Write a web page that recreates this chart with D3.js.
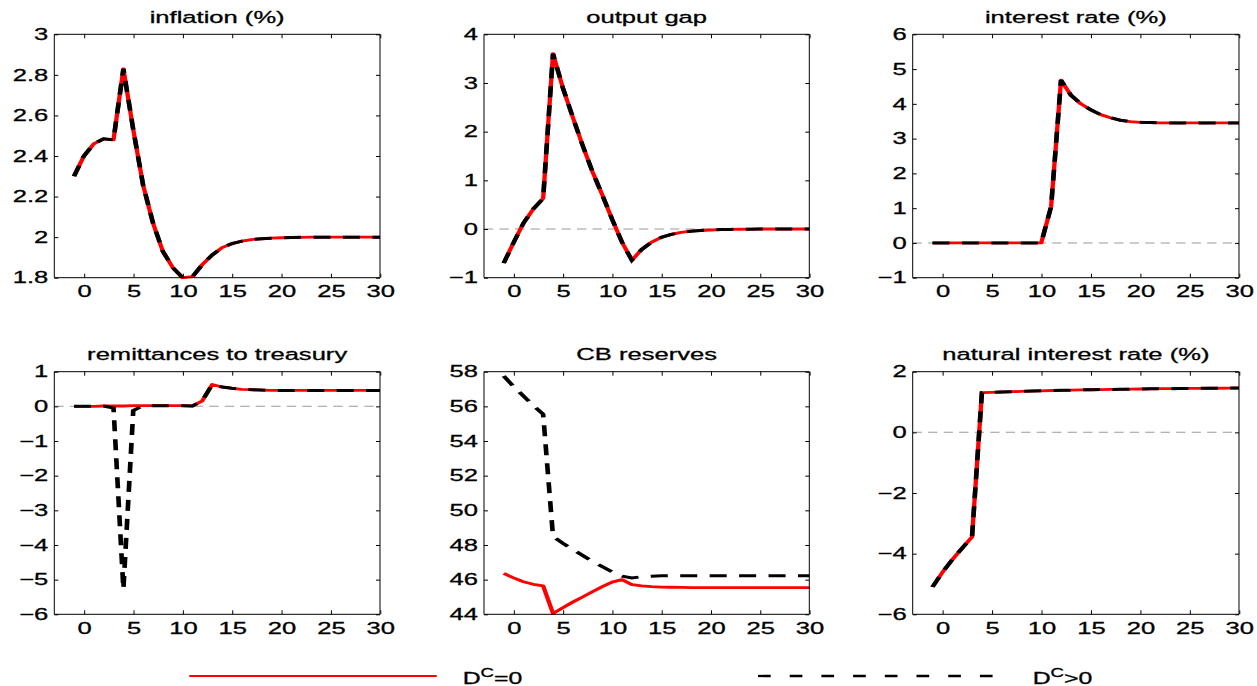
<!DOCTYPE html>
<html>
<head>
<meta charset="utf-8">
<script src="https://cdn.jsdelivr.net/npm/d3@7"></script>
<style>
  body { margin: 0; background: #fff; }
  svg { display: block; }
  text { font-family: "Liberation Sans", Arial, sans-serif; fill: #000; stroke: #000; stroke-width: 0.3px; }
</style>
</head>
<body>
<svg id="fig" width="1257" height="686"></svg>
<script>

// horizon (quarters)
const periods = [-1, 0, 1, 2, 3, 4, 5, 6, 7, 8, 9, 10, 11, 12, 13, 14, 15,
    16, 17, 18, 19, 20, 21, 22, 23, 24, 25, 26, 27, 28, 29, 30];

// series where both cases coincide
const inflation = [2.30, 2.40, 2.46, 2.485, 2.48, 2.83, 2.53, 2.256, 2.07, 1.93, 1.85, 1.80,
    1.805, 1.865, 1.912, 1.948, 1.968, 1.98, 1.988, 1.992, 1.995, 1.997, 1.998, 1.999,
    2.0, 2.0, 2.0, 2.0, 2.0, 2.0, 2.0, 2.0];

const outputGap = [-0.70, -0.28, 0.12, 0.41, 0.63, 3.60, 2.90, 2.30, 1.72, 1.18, 0.70, 0.20,
    -0.27, -0.64, -0.42, -0.27, -0.17, -0.11, -0.07, -0.045, -0.03, -0.02, -0.012, -0.008,
    -0.005, -0.003, 0, 0, 0, 0, 0, 0];

const interestRate = [0, 0, 0, 0, 0, 0, 0, 0, 0, 0, 0, 0, 1.05, 4.68, 4.25, 4.0, 3.83, 3.69,
    3.60, 3.53, 3.49, 3.47, 3.46, 3.45, 3.45, 3.45, 3.45, 3.45, 3.45, 3.45, 3.45, 3.45];

const naturalRate = [-5.10, -4.62, -4.20, -3.82, -3.45, 1.31, 1.32, 1.33, 1.34, 1.35, 1.36,
    1.37, 1.38, 1.385, 1.39, 1.40, 1.405, 1.41, 1.415, 1.42, 1.425, 1.43, 1.435, 1.44,
    1.44, 1.445, 1.45, 1.45, 1.455, 1.455, 1.46, 1.46];

// series that differ between D^C = 0 and D^C > 0
const remitZero = [0, 0, 0, 0.01, 0.01, 0.01, 0.02, 0.02, 0.02, 0.02, 0.02, 0.02, 0.01, 0.16,
    0.63, 0.56, 0.52, 0.49, 0.48, 0.47, 0.46, 0.46, 0.46, 0.46, 0.46, 0.46, 0.46, 0.46,
    0.46, 0.46, 0.46, 0.46];
const remitPos = [0, 0, 0, 0.01, -0.05, -5.27, -0.12, 0.02, 0.02, 0.02, 0.02, 0.02, 0.01, 0.16,
    0.63, 0.56, 0.52, 0.49, 0.48, 0.47, 0.46, 0.46, 0.46, 0.46, 0.46, 0.46, 0.46, 0.46,
    0.46, 0.46, 0.46, 0.46];

const reservesZero = [46.36, 46.10, 45.88, 45.73, 45.64, 44.05, 44.38, 44.70, 45.00, 45.30,
    45.60, 45.86, 46.00, 45.71, 45.64, 45.60, 45.57, 45.56, 45.55, 45.54, 45.54, 45.54,
    45.54, 45.54, 45.54, 45.54, 45.54, 45.54, 45.54, 45.54, 45.54, 45.54];
const reservesPos = [57.75, 57.15, 56.60, 56.05, 55.55, 48.50, 48.10, 47.75, 47.40, 47.05,
    46.75, 46.45, 46.20, 46.10, 46.17, 46.20, 46.22, 46.23, 46.23, 46.23, 46.23, 46.23,
    46.23, 46.23, 46.23, 46.23, 46.23, 46.23, 46.23, 46.23, 46.23, 46.23];

// tick values
const xTicks = [0, 5, 10, 15, 20, 25, 30];
const inflationTicks = [1.8, 2, 2.2, 2.4, 2.6, 2.8, 3];
const gapTicks = [-1, 0, 1, 2, 3, 4];
const rateTicks = [-1, 0, 1, 2, 3, 4, 5, 6];
const remitTicks = [-6, -5, -4, -3, -2, -1, 0, 1];
const reservesTicks = [44, 46, 48, 50, 52, 54, 56, 58];
const naturalTicks = [-6, -4, -2, 0, 2];

const titles = ["inflation (%)", "output gap", "interest rate (%)",
    "remittances to treasury", "CB reserves", "natural interest rate (%)"];
const legendLabels = ["=0", ">0"];

const panels = [
    { red: inflation, black: inflation, ticks: inflationTicks, zero: false },
    { red: outputGap, black: outputGap, ticks: gapTicks, zero: true },
    { red: interestRate, black: interestRate, ticks: rateTicks, zero: true },
    { red: remitZero, black: remitPos, ticks: remitTicks, zero: true },
    { red: reservesZero, black: reservesPos, ticks: reservesTicks, zero: false },
    { red: naturalRate, black: naturalRate, ticks: naturalTicks, zero: true }
];

// The figure is stretched sideways, so everything is drawn in a narrower
// space and scaled up horizontally (text and dashes included)
const S = 1.55;

// panel boxes in screen pixels
const cols = [[54.3, 380], [484, 809.3], [912.7, 1239]];
const rows = [[34.3, 277.7], [371.7, 614.3]];

const svg = d3.select("#fig");
const root = svg.append("g").attr("transform", "scale(" + S + ",1)");

const fmt = d3.format("~f");

panels.forEach(function(p, i) {
    let col = cols[i % 3];
    let row = rows[Math.floor(i / 3)];
    let left = col[0] / S, right = col[1] / S;
    let top = row[0], bottom = row[1];

    let x = d3.scaleLinear().domain([-3, 30]).range([left, right]);
    let y = d3.scaleLinear()
        .domain([p.ticks[0], p.ticks[p.ticks.length - 1]])
        .range([bottom, top]);

    let g = root.append("g").attr("class", "panel");

    if (p.zero) {
        g.append("line")
            .attr("x1", left).attr("x2", right)
            .attr("y1", y(0)).attr("y2", y(0))
            .attr("stroke", "#9a9a9a")
            .attr("stroke-width", 1)
            .attr("stroke-dasharray", "6,4");
    }

    let line = d3.line()
        .x(function(d, j) { return x(periods[j]); })
        .y(function(d) { return y(d); });

    g.append("path")
        .datum(p.red)
        .attr("d", line)
        .attr("fill", "none")
        .attr("stroke", "#ff0000")
        .attr("stroke-width", 2.8)
        .attr("stroke-linejoin", "round");

    g.append("path")
        .datum(p.black)
        .attr("d", line)
        .attr("fill", "none")
        .attr("stroke", "#000")
        .attr("stroke-width", 3)
        .attr("stroke-dasharray", "11,8");

    // axes, ticks pointing inwards on all four sides
    let axes = [
        { ax: d3.axisLeft(y).tickValues(p.ticks).tickSize(-4 / S).tickPadding(6 / S).tickFormat(function(d) { return fmt(d); }), tr: "translate(" + left + ",0)" },
        { ax: d3.axisRight(y).tickValues(p.ticks).tickSize(-4 / S).tickFormat(""), tr: "translate(" + right + ",0)" },
        { ax: d3.axisBottom(x).tickValues(xTicks).tickSize(-4).tickPadding(7.5).tickFormat(function(d) { return fmt(d); }), tr: "translate(0," + bottom + ")" },
        { ax: d3.axisTop(x).tickValues(xTicks).tickSize(-4).tickFormat(""), tr: "translate(0," + top + ")" }
    ];

    axes.forEach(function(a) {
        let ag = g.append("g")
            .attr("transform", a.tr)
            .call(a.ax.tickSizeOuter(0));
        ag.select(".domain").remove();
        ag.attr("font-size", 16.5).attr("font-family", null);
        ag.selectAll("line")
            .attr("stroke", "#000")
            .attr("vector-effect", "non-scaling-stroke");
    });

    g.append("rect")
        .attr("x", left).attr("y", top)
        .attr("width", right - left).attr("height", bottom - top)
        .attr("fill", "none")
        .attr("stroke", "#000")
        .attr("stroke-width", 1)
        .attr("vector-effect", "non-scaling-stroke");

    g.append("text")
        .attr("x", (left + right) / 2)
        .attr("y", top - 11.5)
        .attr("text-anchor", "middle")
        .attr("font-size", 16.5)
        .text(titles[i]);
});

// legend
let legend = root.append("g").attr("class", "legend");

legend.append("line")
    .attr("x1", 189.3 / S).attr("x2", 436.7 / S)
    .attr("y1", 676).attr("y2", 676)
    .attr("stroke", "#ff0000")
    .attr("stroke-width", 2);

legend.append("line")
    .attr("x1", 758 / S).attr("x2", 995 / S)
    .attr("y1", 676).attr("y2", 676)
    .attr("stroke", "#000")
    .attr("stroke-width", 2.3)
    .attr("stroke-dasharray", (12.7 / S) + "," + (19 / S));

[462.7, 1032.7].forEach(function(px, k) {
    let t = legend.append("text")
        .attr("x", px / S)
        .attr("y", 684)
        .attr("font-size", 16);
    t.append("tspan").text("D");
    t.append("tspan").attr("font-size", 12).attr("dy", -7).text("C");
    t.append("tspan").attr("dy", 7).text(legendLabels[k]);
});

</script>
</body>
</html>
